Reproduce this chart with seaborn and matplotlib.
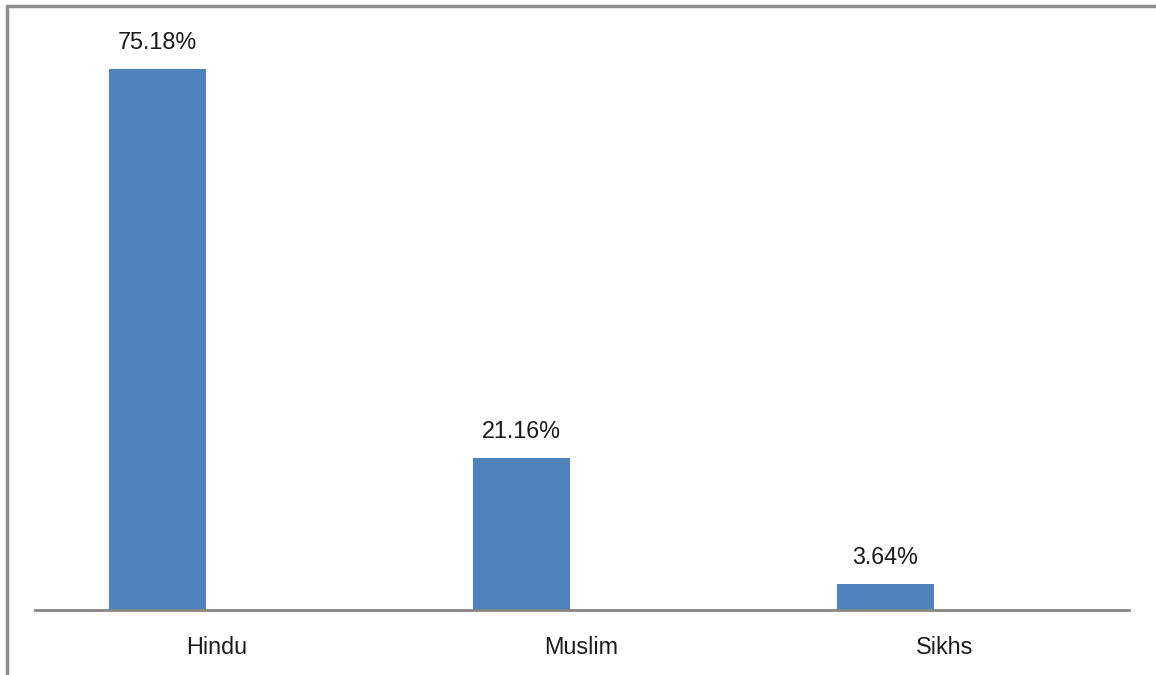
import pandas as pd
import matplotlib
matplotlib.use('Agg')
import matplotlib.pyplot as plt
import seaborn as sns
from matplotlib.lines import Line2D

religions = ['Hindu', 'Muslim', 'Sikhs']
shares = [75.18, 21.16, 3.64]
bar_labels = ['75.18%', '21.16%', '3.64%']

df = pd.DataFrame({'religion': religions, 'share': shares})

sns.set_style('white')
plt.rcParams['font.family'] = ['Liberation Sans', 'DejaVu Sans']

fig = plt.figure(figsize=(11.56, 6.75), dpi=100)
ax = fig.add_axes([35 / 1156, 65 / 675, 1094 / 1156, 575.4 / 675])

sns.barplot(x='religion', y='share', data=df, color='#4F81BD', width=0.266,
            saturation=1, linewidth=0, ax=ax)

for i, (v, t) in enumerate(zip(shares, bar_labels)):
    ax.text(i, v + 2.1, t, ha='center', va='bottom', fontsize=16.8, color='#1a1a1a')

ax.set_xlim(-0.3365, 2.669)
ax.set_ylim(0, 80)
ax.set_xticks([0.1635, 1.1635, 2.1635])
ax.set_xticklabels(religions, fontsize=16.8, color='#1a1a1a')
ax.tick_params(axis='x', length=0, pad=19)
ax.set_yticks([])
ax.set_xlabel('')
ax.set_ylabel('')
for s in ['top', 'right', 'left']:
    ax.spines[s].set_visible(False)
ax.spines['bottom'].set_color('#868686')
ax.spines['bottom'].set_linewidth(2)

# outer frame: top and left edges
fig.add_artist(Line2D([7 / 1156, 1], [1 - 6 / 675, 1 - 6 / 675], transform=fig.transFigure,
                      color='#8c8c8c', lw=2.5))
fig.add_artist(Line2D([7 / 1156, 7 / 1156], [0, 1 - 6 / 675], transform=fig.transFigure,
                      color='#8c8c8c', lw=2.5))

fig.savefig('out.png', dpi=100)
